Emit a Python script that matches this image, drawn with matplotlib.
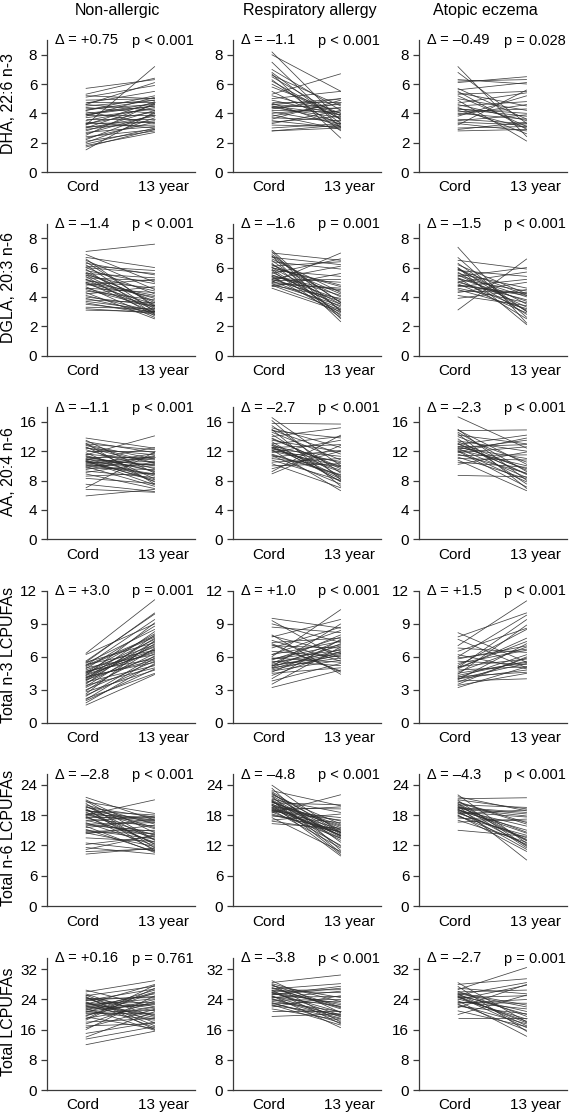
import matplotlib
matplotlib.use("Agg")
import matplotlib.pyplot as plt
import numpy as np

plt.rcParams["font.family"] = ["Liberation Sans", "DejaVu Sans"]

# ---------------- data ----------------
groups = ["Non-allergic", "Respiratory allergy", "Atopic eczema"]
timepoints = ["Cord", "13 year"]
measures = ["DHA, 22:6 n-3", "DGLA, 20:3 n-6", "AA, 20:4 n-6",
            "Total n-3 LCPUFAs", "Total n-6 LCPUFAs", "Total LCPUFAs"]
yticks = [[0, 2, 4, 6, 8], [0, 2, 4, 6, 8], [0, 4, 8, 12, 16],
          [0, 3, 6, 9, 12], [0, 6, 12, 18, 24], [0, 8, 16, 24, 32]]
ymax = [9, 9, 18, 12, 26, 35]
deltas = [["Δ = +0.75", "Δ = –1.1", "Δ = –0.49"],
          ["Δ = –1.4", "Δ = –1.6", "Δ = –1.5"],
          ["Δ = –1.1", "Δ = –2.7", "Δ = –2.3"],
          ["Δ = +3.0", "Δ = +1.0", "Δ = +1.5"],
          ["Δ = –2.8", "Δ = –4.8", "Δ = –4.3"],
          ["Δ = +0.16", "Δ = –3.8", "Δ = –2.7"]]
pvalues = [["p < 0.001", "p < 0.001", "p = 0.028"],
           ["p < 0.001", "p = 0.001", "p < 0.001"],
           ["p < 0.001", "p < 0.001", "p < 0.001"],
           ["p = 0.001", "p < 0.001", "p < 0.001"],
           ["p < 0.001", "p < 0.001", "p < 0.001"],
           ["p = 0.761", "p < 0.001", "p = 0.001"]]

# DHA
dha_non_cord = [3.2, 5.7, 5.3, 5.1, 4.9, 4.8, 4.7, 4.6, 4.5, 4.4, 4.3, 4.2, 4.1, 4.0, 3.9, 3.9, 3.8, 3.7, 3.6, 3.5,
                3.4, 3.3, 3.2, 3.1, 3.0, 3.0, 2.9, 2.8, 2.7, 2.6, 2.5, 2.4, 2.3, 2.2, 2.1, 2.0, 1.9, 1.8, 1.7, 1.5,
                4.6, 4.2, 3.9, 5.2, 3.3]
dha_non_13y = [7.2, 6.3, 6.4, 5.9, 5.0, 4.8, 5.5, 4.2, 4.9, 4.0, 4.6, 5.2, 3.3, 4.5, 4.7, 3.9, 5.1, 4.3, 3.6, 4.4,
               3.0, 4.1, 4.8, 3.2, 3.8, 4.6, 3.5, 4.2, 3.1, 3.9, 4.7, 2.9, 3.4, 4.0, 2.8, 3.7, 3.0, 2.7, 2.9, 4.1,
               6.1, 4.9, 4.5, 5.0, 3.4]
dha_resp_cord = [8.2, 8.0, 7.5, 7.0, 6.8, 6.7, 6.6, 6.5, 6.3, 6.0, 5.5, 5.3, 5.2, 5.0, 4.9, 4.8, 4.7, 4.6, 4.6, 4.5,
                 4.5, 4.4, 4.4, 4.3, 4.2, 4.1, 4.0, 3.9, 3.8, 3.7, 3.6, 3.5, 3.4, 3.3, 3.2, 3.0, 2.8, 2.8, 5.8, 6.2]
dha_resp_13y = [3.5, 5.5, 3.0, 4.2, 3.3, 2.3, 4.5, 3.8, 2.8, 3.6, 3.2, 6.7, 4.0, 5.5, 3.9, 4.8, 3.1, 5.0, 4.3, 3.9,
                3.4, 4.6, 3.7, 5.0, 4.1, 3.3, 4.4, 2.9, 4.7, 3.5, 4.9, 3.0, 3.8, 4.2, 3.1, 3.3, 3.0, 3.2, 4.0, 3.6]
dha_ecz_cord = [7.2, 6.8, 6.2, 6.1, 5.6, 5.5, 5.4, 5.3, 5.2, 5.0, 4.9, 4.7, 4.6, 4.5, 4.4, 4.3, 4.3, 4.2, 4.1, 4.0,
                3.9, 3.8, 3.6, 3.5, 3.4, 3.3, 3.2, 3.0, 2.9, 2.8, 6.3, 5.7]
dha_ecz_13y = [2.4, 3.3, 6.3, 6.5, 6.1, 2.9, 4.5, 5.5, 3.1, 4.2, 2.1, 5.4, 3.5, 4.8, 2.6, 3.8, 4.0, 3.0, 4.3, 3.6,
               4.6, 5.2, 3.3, 3.9, 3.2, 2.8, 5.6, 3.1, 3.4, 2.9, 6.0, 3.6]

# DGLA
dgla_non_cord = [7.1, 6.9, 6.7, 6.5, 6.4, 6.3, 6.2, 6.1, 6.0, 5.9, 5.8, 5.7, 5.6, 5.5, 5.5, 5.4, 5.3, 5.2, 5.2, 5.1,
                 5.0, 4.9, 4.9, 4.8, 4.7, 4.6, 4.5, 4.4, 4.3, 4.2, 4.1, 4.0, 3.9, 3.8, 3.7, 3.6, 3.5, 3.3, 3.2, 3.1,
                 6.0, 5.6, 5.0, 4.6, 6.6]
dgla_non_13y = [7.6, 5.0, 6.0, 4.5, 3.4, 5.5, 3.0, 5.8, 4.2, 2.8, 4.9, 3.6, 5.3, 3.2, 4.4, 2.7, 5.1, 3.9, 3.1, 4.6,
                2.9, 4.0, 3.5, 5.2, 2.6, 4.3, 3.3, 3.8, 2.5, 4.7, 3.0, 3.4, 2.9, 3.6, 3.1, 2.8, 3.0, 3.2, 2.9, 3.0,
                5.6, 3.7, 4.1, 3.4, 3.3]
dgla_resp_cord = [7.2, 7.1, 7.0, 6.9, 6.8, 6.7, 6.6, 6.5, 6.4, 6.3, 6.2, 6.1, 6.0, 6.0, 5.9, 5.8, 5.7, 5.6, 5.5, 5.4,
                  5.3, 5.2, 5.2, 5.1, 5.0, 5.0, 4.9, 4.9, 4.8, 4.7, 4.6, 5.5, 6.2, 5.8, 5.1, 6.8, 5.4, 4.8, 6.0, 5.3]
dgla_resp_13y = [3.0, 2.5, 6.5, 3.6, 2.3, 6.2, 4.3, 3.1, 5.9, 2.7, 4.0, 6.4, 3.5, 4.8, 2.9, 5.4, 3.3, 6.6, 4.1, 2.8,
                 5.0, 3.7, 6.1, 3.2, 4.5, 7.0, 3.4, 4.6, 3.9, 5.6, 3.0, 3.8, 4.2, 2.6, 5.2, 3.6, 4.4, 3.1, 4.7, 3.5]
dgla_ecz_cord = [7.4, 6.7, 6.5, 6.3, 6.2, 6.0, 5.9, 5.8, 5.7, 5.6, 5.5, 5.5, 5.4, 5.3, 5.2, 5.1, 5.0, 5.0, 4.9, 4.8,
                 4.7, 4.6, 4.5, 4.4, 4.3, 4.1, 3.9, 3.1, 5.9, 5.3, 6.0, 4.8]
dgla_ecz_13y = [2.2, 2.6, 5.9, 3.0, 4.2, 2.1, 3.5, 5.4, 2.8, 4.6, 3.3, 4.0, 6.0, 2.5, 4.4, 3.1, 5.7, 3.8, 2.9, 4.1,
                5.2, 3.6, 3.2, 4.3, 5.0, 3.4, 4.5, 6.6, 4.1, 3.7, 3.0, 4.2]

# AA
aa_non_cord = [13.8, 13.5, 13.3, 13.1, 13.0, 12.8, 12.6, 12.4, 12.2, 12.0, 11.8, 11.6, 11.5, 11.3, 11.2, 11.0, 10.9,
               10.8, 10.7, 10.6, 10.5, 10.4, 10.3, 10.2, 10.0, 9.9, 9.7, 9.5, 9.3, 9.1, 8.9, 8.6, 8.3, 7.5, 7.0, 6.8,
               5.9, 11.1, 10.6, 12.9, 11.4, 9.8, 10.1, 12.5, 10.8]
aa_non_13y = [12.4, 9.0, 11.8, 7.5, 12.2, 10.4, 8.2, 11.5, 9.6, 12.0, 7.8, 10.8, 14.1, 9.3, 11.2, 8.6, 10.1, 12.5,
              7.4, 11.0, 9.8, 10.6, 8.9, 11.7, 10.2, 7.2, 9.5, 11.3, 8.4, 10.5, 6.9, 9.0, 7.6, 6.5, 11.9, 6.4, 6.8,
              10.0, 8.1, 10.9, 9.2, 11.4, 8.8, 10.3, 7.9]
aa_resp_cord = [16.6, 16.2, 15.8, 15.5, 15.2, 15.0, 14.8, 14.6, 14.3, 14.0, 13.8, 13.5, 13.3, 13.0, 12.8, 12.6, 12.5,
                12.4, 12.3, 12.2, 12.0, 11.8, 11.6, 11.4, 11.2, 11.0, 10.8, 10.5, 10.3, 10.0, 9.6, 9.2, 8.9, 12.5,
                13.0, 14.9, 12.1, 11.5, 13.7, 12.8]
aa_resp_13y = [10.0, 8.1, 15.7, 9.0, 12.5, 7.2, 13.8, 10.8, 8.5, 15.2, 9.6, 11.9, 7.8, 14.0, 10.4, 8.2, 12.9, 9.2,
               11.3, 6.6, 10.0, 13.5, 8.8, 7.5, 12.1, 9.9, 8.0, 11.0, 7.0, 10.3, 12.0, 14.2, 12.8, 9.4, 8.4, 11.6,
               10.6, 8.7, 9.8, 7.9]
aa_ecz_cord = [16.7, 15.0, 14.8, 14.6, 14.4, 14.2, 14.0, 13.7, 13.4, 13.1, 12.9, 12.7, 12.5, 12.4, 12.3, 12.2, 12.0,
               11.8, 11.6, 11.4, 11.2, 11.0, 10.8, 10.5, 10.2, 8.7, 12.6, 13.3, 12.1, 14.9, 11.9, 13.0]
aa_ecz_13y = [12.4, 8.0, 14.9, 9.2, 6.9, 13.0, 10.5, 7.5, 12.0, 8.8, 14.2, 9.6, 11.0, 8.4, 13.5, 10.0, 7.1, 12.6,
              9.0, 11.5, 8.2, 10.8, 6.6, 9.8, 11.9, 8.5, 12.9, 9.4, 7.8, 10.2, 13.8, 8.9]

# Total n-3 LCPUFAs
n3_non_cord = [6.3, 6.2, 5.6, 5.5, 5.4, 5.3, 5.2, 5.1, 5.0, 4.9, 4.8, 4.7, 4.6, 4.5, 4.5, 4.4, 4.3, 4.2, 4.1, 4.0,
               3.9, 3.8, 3.7, 3.6, 3.5, 3.4, 3.3, 3.2, 3.0, 2.9, 2.8, 2.6, 2.5, 2.4, 2.2, 2.1, 2.0, 1.8, 1.6, 4.3,
               5.5, 3.9, 4.6, 5.2, 4.1]
n3_non_13y = [11.2, 9.0, 9.9, 7.3, 8.5, 6.6, 9.4, 7.8, 6.2, 8.8, 7.1, 5.8, 8.1, 6.9, 7.6, 6.4, 9.1, 5.5, 7.0, 8.3,
              6.0, 7.4, 5.2, 6.7, 8.0, 5.0, 7.2, 6.3, 5.6, 6.8, 4.8, 7.5, 5.3, 6.1, 4.5, 5.9, 4.9, 5.4, 4.4, 6.5,
              10.0, 7.7, 6.6, 7.9, 5.7]
n3_resp_cord = [9.5, 9.3, 9.0, 8.7, 8.0, 7.9, 7.8, 7.5, 7.3, 7.1, 7.0, 6.8, 6.5, 6.2, 6.0, 5.9, 5.8, 5.7, 5.6, 5.5,
                5.4, 5.3, 5.2, 5.1, 5.0, 5.0, 4.9, 4.8, 4.6, 4.5, 4.3, 4.0, 3.8, 3.5, 3.2, 5.8, 5.2, 7.2, 6.2, 4.7]
n3_resp_13y = [8.6, 5.8, 7.3, 8.2, 4.4, 6.3, 9.4, 5.6, 7.7, 4.7, 6.8, 8.7, 6.0, 7.4, 10.3, 5.5, 6.6, 7.8, 5.2, 6.4,
               8.0, 7.0, 6.1, 9.0, 5.9, 7.5, 6.7, 6.2, 7.2, 5.0, 6.5, 7.6, 5.4, 6.9, 4.8, 7.1, 6.3, 4.6, 8.4, 5.7]
n3_ecz_cord = [8.2, 7.8, 7.6, 7.0, 6.8, 6.5, 6.2, 6.0, 5.8, 5.6, 5.4, 5.2, 5.1, 5.0, 4.9, 4.8, 4.6, 4.5, 4.4, 4.2,
               4.1, 4.0, 3.9, 3.8, 3.7, 3.5, 3.4, 3.2, 5.0, 4.3, 5.9, 4.0]
n3_ecz_13y = [5.5, 10.0, 5.0, 11.1, 6.4, 8.6, 4.9, 9.8, 7.0, 5.3, 6.6, 8.5, 5.8, 9.4, 7.7, 5.1, 6.9, 5.5, 8.9, 4.6,
              6.2, 5.4, 7.2, 4.0, 5.9, 6.0, 4.5, 5.1, 7.4, 5.6, 6.7, 4.8]

# Total n-6 LCPUFAs
n6_non_cord = [21.5, 21.0, 20.6, 20.3, 20.0, 19.8, 19.5, 19.3, 19.0, 18.8, 18.6, 18.4, 18.2, 18.0, 17.8, 17.5, 17.3,
               17.0, 16.8, 16.5, 16.2, 16.0, 15.8, 15.5, 15.0, 14.8, 14.6, 14.5, 14.3, 13.5, 12.5, 12.2, 11.6, 11.2,
               10.8, 10.3, 18.9, 17.6, 19.6, 16.3, 18.1, 20.8, 15.2, 17.9, 19.1]
n6_non_13y = [17.0, 14.5, 18.3, 11.5, 16.2, 13.0, 17.6, 10.9, 15.3, 18.0, 12.3, 16.8, 14.0, 21.0, 11.2, 17.4, 15.8,
              13.6, 17.8, 12.0, 16.5, 14.8, 10.6, 17.2, 13.3, 15.0, 14.4, 11.8, 16.0, 12.8, 11.0, 13.8, 10.3, 14.1,
              11.3, 11.5, 16.9, 12.6, 15.5, 14.2, 17.5, 13.1, 10.8, 16.6, 12.2]
n6_resp_cord = [23.9, 23.3, 22.8, 22.4, 22.0, 21.7, 21.4, 21.1, 20.8, 20.6, 20.4, 20.2, 20.0, 19.8, 19.6, 19.4, 19.2,
                19.0, 18.8, 18.6, 18.4, 18.2, 18.0, 17.5, 17.0, 16.3, 16.8, 21.0, 20.5, 19.5, 18.9, 22.6, 20.1, 19.9,
                21.8, 18.7, 19.3, 20.9, 17.8, 19.1, 22.2, 20.7]
n6_resp_13y = [14.5, 11.0, 19.8, 12.6, 16.2, 10.5, 13.8, 18.5, 11.8, 15.5, 20.0, 13.0, 9.9, 16.8, 14.0, 19.2, 14.0,
               11.5, 17.5, 13.4, 22.0, 14.6, 15.0, 10.8, 18.2, 15.4, 14.8, 13.6, 16.0, 12.0, 19.6, 14.4, 15.8, 13.4,
               14.2, 17.0, 15.2, 10.2, 16.5, 14.6, 15.0, 13.9]
n6_ecz_cord = [22.0, 21.6, 21.2, 20.9, 20.6, 20.3, 20.0, 19.8, 19.6, 19.4, 19.2, 19.0, 18.8, 18.6, 18.4, 18.2, 18.0,
               17.7, 17.4, 17.0, 16.6, 15.0, 19.5, 20.2, 18.9, 19.9, 21.0, 19.1, 18.5, 20.5, 17.9, 19.3]
n6_ecz_13y = [12.4, 18.8, 21.4, 11.8, 16.5, 13.0, 19.5, 9.1, 14.6, 18.2, 12.0, 15.8, 11.2, 17.6, 13.5, 19.0, 10.8,
              14.0, 16.8, 12.6, 17.2, 13.8, 18.5, 11.5, 15.0, 12.9, 19.2, 14.4, 13.2, 16.2, 12.2, 17.8]

# Total LCPUFAs
tot_non_cord = [26.5, 26.0, 25.5, 25.0, 24.6, 24.2, 24.0, 23.7, 23.4, 23.0, 22.7, 22.4, 22.0, 21.7, 21.4, 21.0, 20.6,
                20.2, 19.8, 19.4, 19.0, 18.5, 18.0, 17.5, 17.0, 16.5, 16.0, 15.0, 14.0, 13.5, 12.0, 23.8, 22.2, 21.2,
                24.4, 20.8, 25.2, 22.9, 19.6, 23.2, 21.8, 18.8, 24.8, 22.5, 20.4]
tot_non_13y = [22.0, 29.0, 19.5, 27.5, 17.0, 24.5, 21.0, 26.8, 16.5, 23.2, 28.0, 19.8, 25.5, 15.8, 22.6, 18.5, 26.0,
               20.4, 24.0, 16.2, 22.0, 27.0, 19.0, 23.6, 17.6, 21.4, 25.0, 18.0, 20.8, 16.8, 15.6, 24.8, 18.8, 26.5,
               21.6, 23.0, 17.8, 20.0, 25.8, 19.2, 22.8, 27.8, 16.0, 24.2, 21.2]
tot_resp_cord = [29.0, 28.5, 28.0, 27.6, 27.2, 26.8, 26.5, 26.2, 25.9, 25.6, 25.3, 25.0, 24.7, 24.4, 24.1, 23.8,
                 23.5, 23.2, 22.8, 22.4, 22.0, 21.5, 21.0, 19.5, 26.0, 25.2, 24.9, 27.0, 23.0, 24.6, 25.8, 28.2,
                 22.6, 26.4, 24.2, 27.8]
tot_resp_13y = [20.5, 30.5, 18.0, 24.5, 21.5, 28.2, 17.5, 25.8, 19.8, 23.0, 27.5, 16.5, 22.2, 26.2, 19.0, 24.0, 20.8,
                17.8, 23.6, 20.0, 25.0, 18.5, 21.0, 20.2, 22.6, 27.0, 19.4, 21.8, 18.8, 24.8, 20.6, 23.4, 17.2, 26.6,
                19.6, 22.0]
tot_ecz_cord = [28.5, 28.0, 27.5, 27.0, 26.6, 26.2, 25.8, 25.5, 25.2, 25.0, 24.8, 24.5, 24.2, 24.0, 23.7, 23.4, 23.0,
                22.6, 22.2, 21.8, 21.0, 20.0, 19.0, 25.6, 24.6, 26.0, 24.9, 23.2, 25.3, 22.8]
tot_ecz_13y = [18.0, 29.5, 15.5, 25.5, 32.5, 19.5, 22.5, 17.0, 28.5, 20.8, 16.5, 25.0, 18.8, 27.8, 14.2, 21.5, 24.0,
               17.5, 20.2, 28.0, 16.8, 25.2, 19.0, 22.0, 18.2, 26.5, 17.8, 23.0, 20.0, 15.8]

panels = [
    [(dha_non_cord, dha_non_13y), (dha_resp_cord, dha_resp_13y), (dha_ecz_cord, dha_ecz_13y)],
    [(dgla_non_cord, dgla_non_13y), (dgla_resp_cord, dgla_resp_13y), (dgla_ecz_cord, dgla_ecz_13y)],
    [(aa_non_cord, aa_non_13y), (aa_resp_cord, aa_resp_13y), (aa_ecz_cord, aa_ecz_13y)],
    [(n3_non_cord, n3_non_13y), (n3_resp_cord, n3_resp_13y), (n3_ecz_cord, n3_ecz_13y)],
    [(n6_non_cord, n6_non_13y), (n6_resp_cord, n6_resp_13y), (n6_ecz_cord, n6_ecz_13y)],
    [(tot_non_cord, tot_non_13y), (tot_resp_cord, tot_resp_13y), (tot_ecz_cord, tot_ecz_13y)],
]

# ---------------- layout (pixels) ----------------
W, H = 573, 1113
fig = plt.figure(figsize=(W / 100, H / 100), dpi=100)
fig.patch.set_facecolor("white")

col_left = [47, 233, 419]
ax_w = 148
row_top0 = 40
row_step = 183.6
ax_h = 132
FS_TICK = 11
FS_ANN = 10.5
FS_LAB = 11.5
spine_col = "#3a3a3a"
line_col = "#2e2e2e"

def fx(x):
    return x / W

def fy(y):
    return 1 - y / H

x_pos = np.arange(len(timepoints))

for r in range(6):
    top = row_top0 + r * row_step
    for c in range(3):
        left = col_left[c]
        ax = fig.add_axes([fx(left), fy(top + ax_h), ax_w / W, ax_h / H])
        cord, y13 = panels[r][c]
        ax.plot(x_pos, np.array([cord, y13]), color=line_col, lw=0.55, alpha=0.9,
                solid_capstyle="butt")
        ax.set_xlim(-0.56, 1.58)
        ax.set_ylim(0, ymax[r])
        ax.set_yticks(yticks[r])
        ax.set_yticklabels([str(t) for t in yticks[r]], fontsize=FS_TICK)
        # label positions slightly offset like in the original figure
        ax.set_xticks([-0.04, 1.12])
        ax.set_xticklabels(timepoints, fontsize=FS_TICK)
        ax.tick_params(axis="x", length=0, pad=6)
        ax.tick_params(axis="y", length=4, width=0.9, color=spine_col, pad=3)
        for s in ["top", "right"]:
            ax.spines[s].set_visible(False)
        for s in ["left", "bottom"]:
            ax.spines[s].set_color(spine_col)
            ax.spines[s].set_linewidth(0.9)
        ax.set_facecolor("none")
        # annotations
        fig.text(fx(left + 8), fy(top + 0.5), deltas[r][c], fontsize=FS_ANN,
                 ha="left", va="center")
        fig.text(fx(left + ax_w - 1), fy(top + 0.5), pvalues[r][c], fontsize=FS_ANN,
                 ha="right", va="center")
        if c == 0:
            fig.text(fx(9), fy(top + ax_h / 2 - 2), measures[r], fontsize=FS_LAB,
                     rotation=90, ha="center", va="center")

title_x = [117, 310, 485]
for c in range(3):
    fig.text(fx(title_x[c]), fy(10), groups[c], fontsize=FS_LAB, ha="center", va="center")

fig.savefig("out.png", dpi=100, facecolor="white")
